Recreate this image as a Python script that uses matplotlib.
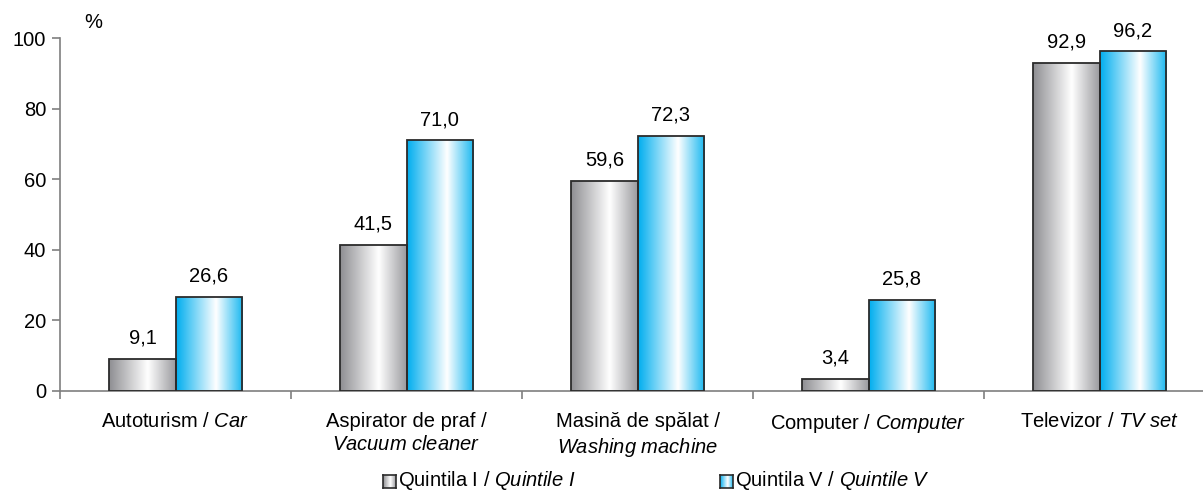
import numpy as np
import matplotlib.pyplot as plt
from matplotlib.colors import LinearSegmentedColormap

# date
categorii = ['Autoturism / $\\mathit{Car}$',
             'Aspirator de praf /\n$\\mathit{Vacuum\\ cleaner}$',
             'Masină de spălat /\n$\\mathit{Washing\\ machine}$',
             'Computer / $\\mathit{Computer}$',
             'Televizor / $\\mathit{TV\\ set}$']
quintila_1 = [9.1, 41.5, 59.6, 3.4, 92.9]
quintila_5 = [26.6, 71.0, 72.3, 25.8, 96.2]
legenda = ['Quintila I / $\\mathit{Quintile\\ I}$', 'Quintila V / $\\mathit{Quintile\\ V}$']
yticks = [0, 20, 40, 60, 80, 100]

plt.rcParams['font.family'] = ['Liberation Sans', 'DejaVu Sans']
plt.rcParams['mathtext.fontset'] = 'custom'
plt.rcParams['mathtext.rm'] = 'Liberation Sans'
plt.rcParams['mathtext.it'] = 'Liberation Sans:italic'
fs = 14.5

# gradient orizontal: margini inchise, alb spre mijloc
gri = LinearSegmentedColormap.from_list('gri', [(0, '#8e8e92'), (0.58, '#ffffff'), (1, '#9a9a9e')])
albastru = LinearSegmentedColormap.from_list('alb', [(0, '#00aeef'), (0.6, '#ffffff'), (1, '#1ab8f0')])
grad = np.linspace(0, 1, 256).reshape(1, -1)

fig = plt.figure(figsize=(12.03, 4.93), dpi=100)
ax = fig.add_axes([60/1203, 102/493, 1155/1203, 353/493])

x = np.arange(len(categorii))
w = 0.286
for serie, off, cmap in [(quintila_1, -w/2, gri), (quintila_5, w/2, albastru)]:
    bare = ax.bar(x + off, serie, w, facecolor='none', edgecolor='#2b2b2b', linewidth=1.3, zorder=3)
    for b, v in zip(bare, serie):
        x0 = b.get_x()
        im = ax.imshow(grad, cmap=cmap, aspect='auto', extent=[x0, x0 + w, 0, v], zorder=2)
        im.set_clip_path(b)
        ax.annotate(f'{v:.1f}'.replace('.', ','), (x0 + w/2, v), xytext=(0, 8),
                    textcoords='offset points', ha='center', va='bottom', fontsize=fs)

ax.set_xlim(-0.5, 4.5)
ax.set_ylim(0, 100)
ax.set_yticks(yticks)
ax.set_xticks(x)
ax.set_xticklabels(categorii, fontsize=fs, va='top', linespacing=1.3)
ax.set_xticks(np.arange(-0.5, 5, 1), minor=True)
ax.tick_params(axis='x', which='major', length=0, pad=15)
ax.tick_params(axis='x', which='minor', length=6, width=1.2, color='#7f7f7f', direction='out')
ax.tick_params(axis='y', labelsize=fs, length=6, width=1.2, color='#7f7f7f', pad=4)
for s in ['top', 'right']:
    ax.spines[s].set_visible(False)
for s in ['left', 'bottom']:
    ax.spines[s].set_color('#7f7f7f')
    ax.spines[s].set_linewidth(1.2)
fig.text(84/1203, (493-22)/493, '%', fontsize=fs, va='center', ha='left')

# legenda
for (lx, cmap), txt in zip([(383, gri), (720, albastru)], legenda):
    lax = fig.add_axes([lx/1203, (493-488)/493, 13/1203, 13/493])
    lax.imshow(grad, cmap=cmap, aspect='auto', extent=[0, 1, 0, 1])
    lax.set_xticks([]); lax.set_yticks([])
    for sp in lax.spines.values():
        sp.set_color('#2b2b2b'); sp.set_linewidth(1.2)
    fig.text((lx + 15)/1203, (493-481)/493, txt, fontsize=fs, va='center', ha='left')

fig.savefig('out.png', dpi=100)
